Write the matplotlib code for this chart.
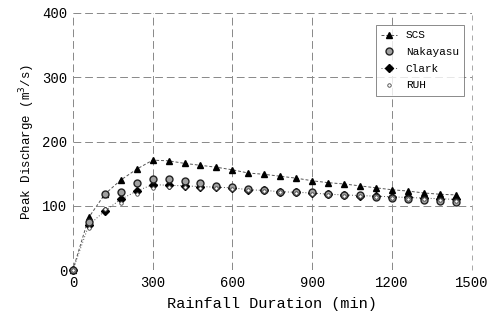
import matplotlib
matplotlib.use('Agg')
import matplotlib.pyplot as plt

plt.rcParams['font.family'] = ['Liberation Mono', 'DejaVu Sans Mono']

# rainfall duration (min)
duration = [0, 60, 120, 180, 240, 300, 360, 420, 480, 540, 600, 660, 720,
            780, 840, 900, 960, 1020, 1080, 1140, 1200, 1260, 1320, 1380, 1440]

# peak discharge (m3/s)
scs = [0, 82, 118, 140, 157, 171, 170, 166, 163, 160, 156, 151, 149,
       146, 143, 139, 136, 134, 131, 128, 125, 123, 120, 118, 117]
nakayasu = [0, 75, 118, 121, 135, 141, 141, 139, 135, 131, 130, 126, 124,
            122, 122, 121, 119, 117, 117, 114, 112, 111, 109, 107, 106]
clark = [0, 70, 92, 110, 123, 133, 132, 131, 130, 129, 128, 125, 124,
         122, 121, 120, 118, 117, 116, 115, 114, 113, 112, 111, 110]
ruh = [0, 65, 95, 105, 118, 128, 130, 130, 128, 127, 126, 124, 123,
       121, 120, 119, 117, 116, 115, 114, 112, 111, 110, 109, 108]

x_ticks = [0, 300, 600, 900, 1200, 1500]
y_ticks = [0, 100, 200, 300, 400]

fig = plt.figure(figsize=(4.92, 3.22), dpi=100)
ax = fig.add_axes([0.148, 0.161, 0.811, 0.799])

ax.plot(duration, scs, color='#555555', ls=(0, (3, 2)), lw=0.7, marker='^',
        ms=5, mfc='black', mec='black', label='SCS', zorder=3, clip_on=False)
ax.plot(duration, nakayasu, color='#555555', ls='none', marker='o',
        ms=5, mfc='#a0a0a0', mec='#222222', mew=1.0, label='Nakayasu',
        zorder=4, clip_on=False)
ax.plot(duration, clark, color='#555555', ls=(0, (1, 2)), lw=0.7, marker='D',
        ms=4, mfc='black', mec='black', label='Clark', zorder=3, clip_on=False)
ax.plot(duration, ruh, ls='none', marker='o', ms=2.5, mfc='white',
        mec='#444444', mew=0.6, label='RUH', zorder=5, clip_on=False)

ax.set_xlim(0, 1500)
ax.set_ylim(0, 400)
ax.set_xticks(x_ticks)
ax.set_yticks(y_ticks)
ax.tick_params(length=0, labelsize=10, pad=4)
ax.grid(True, color='#888888', ls=(0, (8, 4)), lw=0.7)
for s in ax.spines.values():
    s.set_visible(False)
ax.plot([1500, 1500], [0, 400], color='#999999', ls=(0, (6, 6)), lw=0.6,
        clip_on=False)

ax.set_xlabel('Rainfall Duration (min)', fontsize=11, labelpad=5)
ax.set_ylabel('Peak Discharge (m$^3$/s)', fontsize=9, labelpad=4)

leg = ax.legend(loc='upper right', bbox_to_anchor=(0.995, 0.975), fontsize=8,
                frameon=True, fancybox=False, edgecolor='#555555',
                handlelength=1.4, borderpad=0.5, labelspacing=0.6)
leg.get_frame().set_linewidth(0.6)

fig.savefig('out.png', dpi=100, facecolor='white')
